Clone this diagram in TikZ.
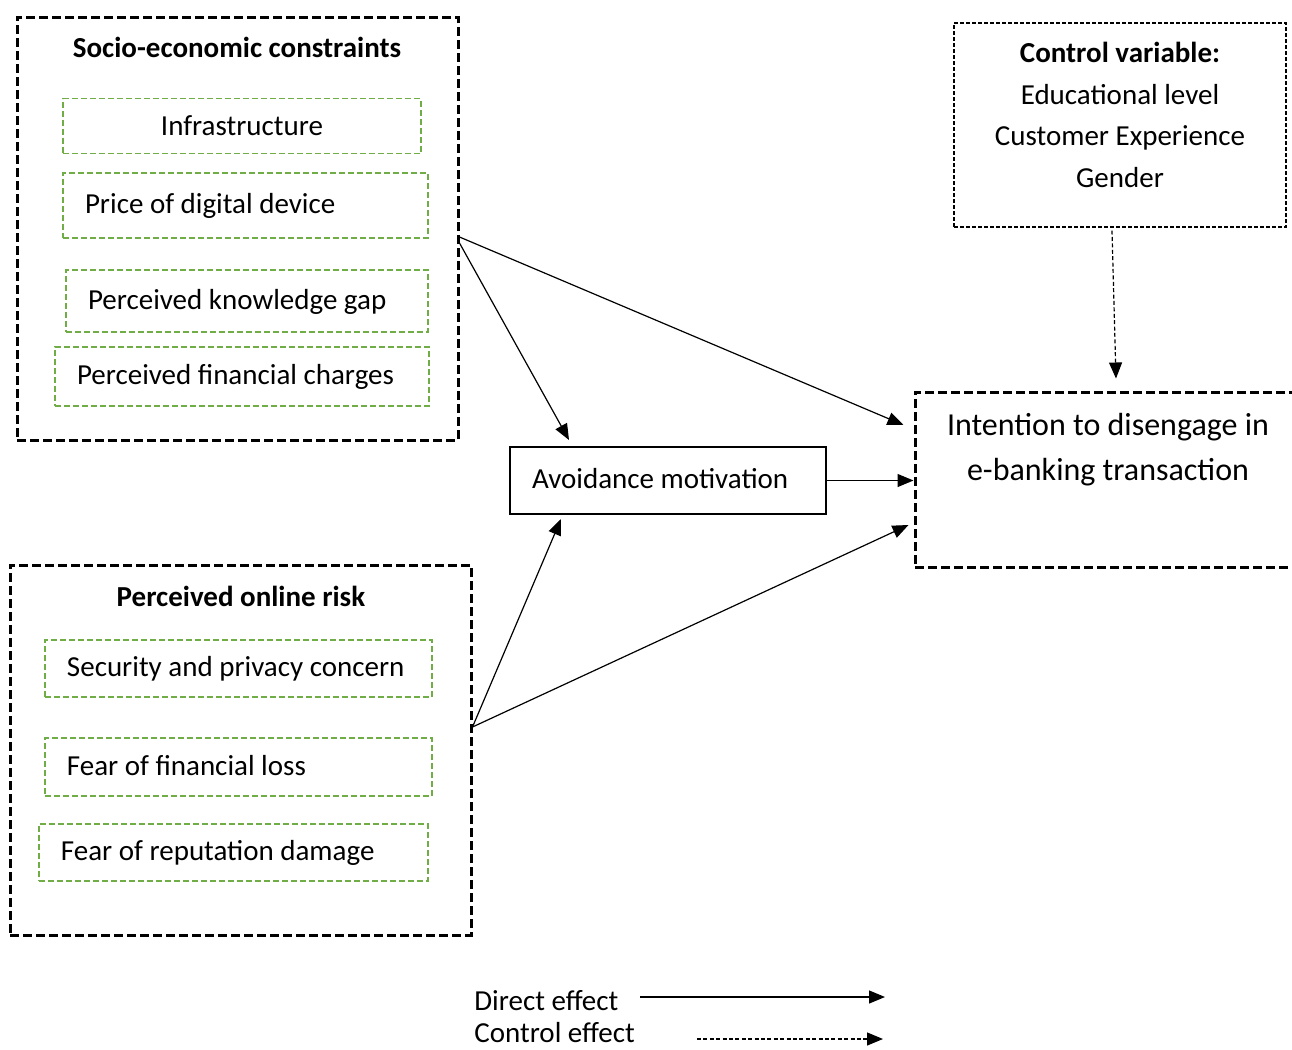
\documentclass[tikz,border=0pt]{standalone}
\usepackage{fontspec}
\setmainfont{Carlito}
\usetikzlibrary{positioning}
\usetikzlibrary{arrows.meta}
\definecolor{green}{RGB}{112,173,71}

\begin{document}
\begin{tikzpicture}[x=0.5pt,y=-0.5pt,font=\fontsize{14.5}{20.75}\selectfont,
	bigbox/.style={draw,line width=1.5pt,dash pattern=on 4.5pt off 2pt,inner sep=0pt},
	itembox/.style={draw=green,line width=0.75pt,dash pattern=on 3pt off 1.5pt,inner sep=0pt},
	lefttext/.style={align=flush left,text width=#1,text depth=2pt,execute at begin node=\hspace*{11pt}},
	direct/.style={line width=0.6pt,-{Triangle[length=8pt,width=6.5pt]}},
	control/.style={direct,dash pattern=on 2pt off 1.2pt}]
	\useasboundingbox (0,0) rectangle (1292,1050);

	% socio-economic constraints
	\node[bigbox,minimum width=220.5pt,minimum height=211.5pt] (socio) at (237.5,228.5) {};
	\node[font=\fontsize{14.5}{20.75}\selectfont\bfseries] (sociotitle) at (237,47) {Socio-economic constraints};
	\node[itembox,minimum width=179pt,minimum height=27.5pt] (infra) at (242,126) {Infrastructure};
	\node[itembox,minimum width=182.5pt,minimum height=32.5pt,lefttext=182.5pt] (price) at (245.5,205.5) {Price of digital device};
	\node[itembox,minimum width=181pt,minimum height=31pt,lefttext=181pt] (knowledge) at (247,301) {Perceived knowledge gap};
	\node[itembox,minimum width=187pt,minimum height=29.5pt,lefttext=187pt] (charges) at (242,376.5) {Perceived financial charges};

	% perceived online risk
	\node[bigbox,minimum width=230.5pt,minimum height=185pt] (risk) at (240.5,750) {};
	\node[font=\fontsize{14.5}{20.75}\selectfont\bfseries] (risktitle) at (241,596) {Perceived online risk};
	\node[itembox,minimum width=193.5pt,minimum height=28.5pt,lefttext=193.5pt] (security) at (238.5,668.5) {Security and privacy concern};
	\node[itembox,minimum width=193.5pt,minimum height=29pt,lefttext=193.5pt] (loss) at (238.5,767) {Fear of financial loss};
	\node[itembox,minimum width=194.5pt,minimum height=28.5pt,lefttext=194.5pt] (damage) at (233.5,852.5) {Fear of reputation damage};

	% mediator and outcome
	\node[draw,line width=1pt,inner sep=0pt,minimum width=158pt,minimum height=33.5pt,lefttext=158pt] (avoid) at (668,480.5) {Avoidance motivation};
	\node[bigbox,minimum width=195pt,minimum height=87.5pt] (target) at (1110,479.5) {};
	\node[align=center,font=\fontsize{16}{22.5}\selectfont] (targettext) at (1108,450) {Intention to disengage in\\e-banking transaction};

	% control variables
	\node[draw,line width=0.6pt,dash pattern=on 2pt off 1pt,inner sep=0pt,minimum width=166pt,minimum height=102pt] (ctrl) at (1120,125) {};
	\node[align=center] (ctrltext) at (1120,115) {\textbf{Control variable:}\\Educational level\\Customer Experience\\Gender};

	% connectors
	\draw[direct] ([yshift=-4.25pt]socio.east) -- ([xshift=-5pt,yshift=27.25pt]target.west);
	\draw[direct] ([yshift=-7.25pt]socio.east) -- ([xshift=30pt,yshift=3pt]avoid.north west);
	\draw[direct] (avoid.east) -- (avoid.east -| target.west);
	\draw[direct] ([yshift=11.5pt]risk.east) -- ([xshift=26pt,yshift=-2pt]avoid.south west);
	\draw[direct] ([yshift=11.5pt]risk.east) -- ([xshift=-2.5pt,yshift=-22.75pt]target.west);
	\draw[control] ([xshift=-4pt,yshift=-1.5pt]ctrl.south) -- ([xshift=3pt,yshift=6pt]target.north);

	% legend
	\node[anchor=west,inner sep=0pt] (ldirect) at (474,1001) {Direct effect};
	\node[anchor=west,inner sep=0pt] (lcontrol) at (474,1033) {Control effect};
	\coordinate (d0) at (640,997);
	\coordinate (d1) at (885,997);
	\draw[direct] (d0) -- (d1);
	\coordinate (c0) at (697,1039);
	\coordinate (c1) at (883,1039);
	\draw[control] (c0) -- (c1);
\end{tikzpicture}
\end{document}
